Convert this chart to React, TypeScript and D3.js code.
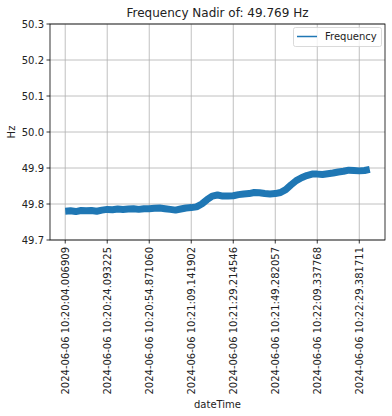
import { useEffect, useRef } from "react";
import * as d3 from "d3";

// tick labels of the categorical x axis (one every 8 samples)
const tickLabels = [
  "2024-06-06 10:20:04.006909",
  "2024-06-06 10:20:24.093225",
  "2024-06-06 10:20:54.871060",
  "2024-06-06 10:21:09.141902",
  "2024-06-06 10:21:29.214546",
  "2024-06-06 10:21:49.282057",
  "2024-06-06 10:22:09.337768",
  "2024-06-06 10:22:29.381711",
];
const tickStep = 8;

// frequency samples (Hz)
const frequency = [
  49.780, 49.781, 49.779, 49.782, 49.781, 49.782, 49.780, 49.783,
  49.785, 49.784, 49.786, 49.785, 49.786, 49.787, 49.785, 49.787,
  49.787, 49.788, 49.789, 49.787, 49.785, 49.783, 49.786, 49.789,
  49.790, 49.792, 49.800, 49.812, 49.822, 49.825, 49.822, 49.822,
  49.823, 49.826, 49.828, 49.829, 49.832, 49.831, 49.829, 49.828,
  49.829, 49.832, 49.840, 49.853, 49.865, 49.873, 49.879, 49.883,
  49.883, 49.882, 49.884, 49.886, 49.889, 49.891, 49.894, 49.893,
  49.892, 49.893, 49.896,
];
const yTicks = [49.7, 49.8, 49.9, 50.0, 50.1, 50.2, 50.3];

const W = 392;
const H = 416;
const MARGIN = { top: 24, right: 7, bottom: 176, left: 50 };
const FONT = "DejaVu Sans, sans-serif";

export default function App() {
  const ref = useRef<SVGSVGElement>(null);

  useEffect(() => {
    const svg = d3.select(ref.current);
    svg.selectAll("*").remove();

    const n = frequency.length - 1;
    const pad = n * 0.05;
    const x = d3.scaleLinear().domain([-pad, n + pad]).range([MARGIN.left, W - MARGIN.right]);
    const y = d3.scaleLinear().domain([49.7, 50.3]).range([H - MARGIN.bottom, MARGIN.top]);
    const x0 = MARGIN.left, x1 = W - MARGIN.right;
    const y0 = H - MARGIN.bottom, y1 = MARGIN.top;

    svg.append("rect").attr("width", W).attr("height", H).attr("fill", "white");

    // Grid
    tickLabels.forEach((_, i) => {
      const px = x(i * tickStep);
      svg.append("line").attr("x1", px).attr("x2", px).attr("y1", y0).attr("y2", y1)
        .attr("stroke", "#b0b0b0").attr("stroke-width", 0.8);
    });
    yTicks.forEach((t) => {
      svg.append("line").attr("x1", x0).attr("x2", x1).attr("y1", y(t)).attr("y2", y(t))
        .attr("stroke", "#b0b0b0").attr("stroke-width", 0.8);
    });

    // Line (thick, noisy band in the original)
    const line = d3.line<number>().x((_, i) => x(i)).y((d) => y(d));
    svg.append("path").datum(frequency).attr("d", line).attr("fill", "none")
      .attr("stroke", "#1f77b4").attr("stroke-width", 7).attr("stroke-linejoin", "bevel");

    // Spines
    svg.append("rect").attr("x", x0).attr("y", y1).attr("width", x1 - x0).attr("height", y0 - y1)
      .attr("fill", "none").attr("stroke", "black").attr("stroke-width", 0.8);

    // Y ticks
    yTicks.forEach((t) => {
      svg.append("line").attr("x1", x0 - 3.5).attr("x2", x0).attr("y1", y(t)).attr("y2", y(t))
        .attr("stroke", "black").attr("stroke-width", 0.8);
      svg.append("text").text(t.toFixed(1)).attr("x", x0 - 6).attr("y", y(t))
        .attr("text-anchor", "end").attr("dominant-baseline", "central")
        .attr("font-family", FONT).attr("font-size", 10).attr("fill", "#222");
    });

    // X ticks
    tickLabels.forEach((lab, i) => {
      const px = x(i * tickStep);
      svg.append("line").attr("x1", px).attr("x2", px).attr("y1", y0).attr("y2", y0 + 3.5)
        .attr("stroke", "black").attr("stroke-width", 0.8);
      svg.append("text").text(lab)
        .attr("transform", `translate(${px},${y0 + 7}) rotate(-90)`)
        .attr("text-anchor", "end").attr("dominant-baseline", "central")
        .attr("font-family", FONT).attr("font-size", 10).attr("fill", "#222");
    });

    // Axis labels and title
    svg.append("text").text("dateTime").attr("x", (x0 + x1) / 2).attr("y", 408)
      .attr("text-anchor", "middle").attr("font-family", FONT).attr("font-size", 10).attr("fill", "#222");
    svg.append("text").text("Hz")
      .attr("transform", `translate(15,${(y0 + y1) / 2}) rotate(-90)`)
      .attr("text-anchor", "middle").attr("font-family", FONT).attr("font-size", 10).attr("fill", "#222");
    svg.append("text").text("Frequency Nadir of: 49.769 Hz").attr("x", (x0 + x1) / 2).attr("y", 17)
      .attr("text-anchor", "middle").attr("font-family", FONT).attr("font-size", 12).attr("fill", "#222");

    // Legend
    const lg = svg.append("g");
    lg.append("rect").attr("x", 293.5).attr("y", 27.5).attr("width", 88).attr("height", 19).attr("rx", 2)
      .attr("fill", "white").attr("fill-opacity", 0.8).attr("stroke", "#d0d0d0").attr("stroke-width", 0.8);
    lg.append("line").attr("x1", 297).attr("x2", 317).attr("y1", 36.5).attr("y2", 36.5)
      .attr("stroke", "#1f77b4").attr("stroke-width", 1.5);
    lg.append("text").text("Frequency").attr("x", 325).attr("y", 36.5)
      .attr("dominant-baseline", "central").attr("font-family", FONT).attr("font-size", 10).attr("fill", "#222");
  }, []);

  return (
    <svg ref={ref} width={W} height={H} style={{ position: "absolute", left: 0, top: 0 }} />
  );
}
